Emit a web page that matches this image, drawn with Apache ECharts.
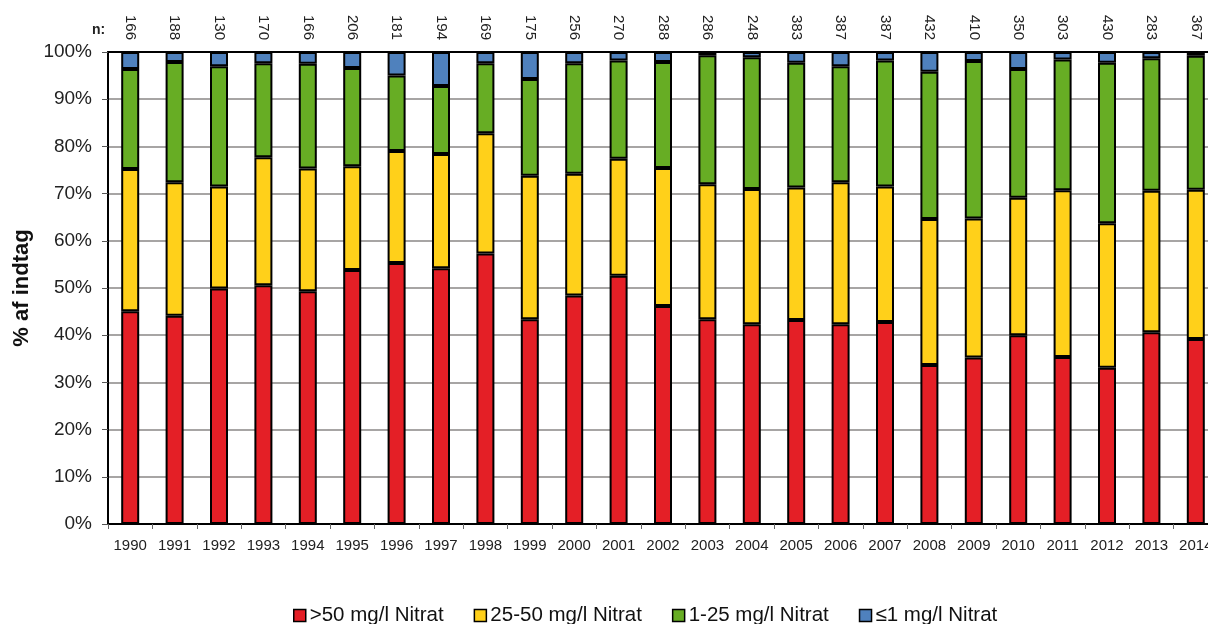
<!DOCTYPE html>
<html>
<head>
<meta charset="utf-8">
<script src="https://cdn.jsdelivr.net/npm/echarts@6/dist/echarts.min.js"></script>
<style>
    html, body { margin: 0; padding: 0; background: #fff; overflow: hidden; }
    /* plottet fortsætter lidt ud over billedets højre kant */
    #chart { width: 1218px; height: 624px; }
</style>
</head>
<body>
<div id="chart"></div>
<script>
const years = ["1990", "1991", "1992", "1993", "1994", "1995", "1996", "1997", "1998", "1999",
    "2000", "2001", "2002", "2003", "2004", "2005", "2006", "2007", "2008", "2009",
    "2010", "2011", "2012", "2013", "2014"];

const nCounts = [166, 188, 130, 170, 166, 206, 181, 194, 169, 175, 256, 270, 288, 286, 248,
    383, 387, 387, 432, 410, 350, 303, 430, 283, 367];

// andele i procent
const over50 = [45.1, 44.1, 49.9, 50.6, 49.3, 53.8, 55.3, 54.2, 57.3, 43.4, 48.4, 52.6, 46.2,
    43.4, 42.3, 43.2, 42.3, 42.8, 33.7, 35.3, 40.0, 35.4, 33.1, 40.6, 39.2];
const from25to50 = [30.1, 28.3, 21.6, 27.1, 26.0, 22.0, 23.7, 24.2, 25.5, 30.4, 25.8, 24.8, 29.2,
    28.6, 28.7, 28.1, 30.1, 28.7, 30.9, 29.4, 29.1, 35.3, 30.6, 30.0, 31.6];
const from1to25 = [21.2, 25.5, 25.5, 19.9, 22.2, 20.8, 16.0, 14.4, 14.8, 20.5, 23.4, 20.8, 22.5,
    27.3, 27.9, 26.4, 24.6, 26.7, 31.2, 33.4, 27.3, 27.7, 34.0, 28.1, 28.4];
const upTo1 = [3.6, 2.1, 3.0, 2.4, 2.5, 3.4, 5.0, 7.2, 2.4, 5.7, 2.4, 1.8, 2.1,
    0.7, 1.1, 2.3, 3.0, 1.8, 4.2, 1.9, 3.6, 1.6, 2.3, 1.3, 0.8];

const fontFamily = "'Liberation Sans', Arial, sans-serif";

function makeSeries(name, data, color) {
    return {
        name: name,
        type: "bar",
        stack: "total",
        barWidth: 18,
        data: data,
        itemStyle: { color: color, borderColor: "#000", borderWidth: 2 },
        emphasis: { disabled: true },
    };
}

const chart = echarts.init(document.getElementById("chart"));

const option = {
    animation: false,
    textStyle: { fontFamily: fontFamily },
    grid: {
        left: 108,
        right: 0,
        top: 52,
        bottom: 100,
    },
    legend: {
        top: 600,
        left: 288,
        itemWidth: 12,
        itemHeight: 12,
        itemGap: 30,
        icon: "rect",
        selectedMode: false,
        textStyle: { fontSize: 20.5, color: "#111", fontFamily: fontFamily, padding: [0, 0, 0, -1] },
        itemStyle: { borderColor: "#000", borderWidth: 1.5 },
    },
    graphic: [
        {
            type: "text",
            left: 92,
            top: 23,
            style: { text: "n:", fontSize: 14, fontWeight: "bold", fill: "#222", fontFamily: fontFamily },
        },
    ],
    xAxis: [
        {
            type: "category",
            data: years,
            position: "bottom",
            axisLine: { lineStyle: { color: "#000", width: 2 } },
            axisTick: { show: true, length: 5, lineStyle: { color: "#666" } },
            axisLabel: { fontSize: 15, color: "#222", margin: 14, interval: 0 },
        },
        {
            type: "category",
            data: nCounts,
            position: "top",
            axisLine: { lineStyle: { color: "#000", width: 2 } },
            axisTick: { show: false },
            axisLabel: { fontSize: 15, color: "#222", rotate: 90, margin: 12, interval: 0 },
        },
    ],
    yAxis: {
        type: "value",
        min: 0,
        max: 100,
        interval: 10,
        name: "% af indtag",
        nameLocation: "middle",
        nameGap: 72,
        nameTextStyle: { fontSize: 22, fontWeight: "bold", color: "#111" },
        axisLine: { show: true, lineStyle: { color: "#000", width: 2 } },
        axisTick: { show: true, length: 6, lineStyle: { color: "#555" } },
        axisLabel: { fontSize: 19, color: "#222", margin: 16, formatter: "{value}%" },
        splitLine: { lineStyle: { color: "#8a8786", width: 1.5 } },
    },
    series: [
        makeSeries(">50 mg/l Nitrat", over50, "#E41F26"),
        makeSeries("25-50 mg/l Nitrat", from25to50, "#FFD01A"),
        makeSeries("1-25 mg/l Nitrat", from1to25, "#67AD24"),
        makeSeries("≤1 mg/l Nitrat", upTo1, "#4F81BD"),
    ],
};

chart.setOption(option);
</script>
</body>
</html>
